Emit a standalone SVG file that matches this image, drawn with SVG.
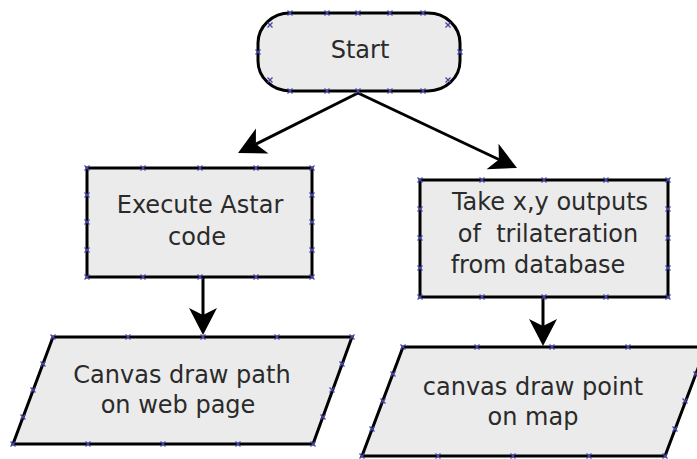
<svg xmlns="http://www.w3.org/2000/svg" xmlns:xlink="http://www.w3.org/1999/xlink" width="697" height="459" viewBox="0 0 697 459">
  <style>
    .shape { fill: #ebebeb; stroke: #000; stroke-width: 3; stroke-linejoin: miter; }
    .label { font-family: "DejaVu Sans", "Liberation Sans", sans-serif; font-size: 24px; fill: #2a2a2a; text-anchor: middle; }
    .conn { stroke: #000; stroke-width: 3; fill: none; }
    .cp { stroke: #4646a8; stroke-width: 1.3; fill: none; }
  </style>
  <defs>
    <!-- filled concave arrowhead; the reference point is the notch at the back -->
    <marker id="head" viewBox="-8 -15 30 30" markerWidth="30" markerHeight="30" refX="0" refY="0" orient="auto" markerUnits="userSpaceOnUse">
      <path d="M20,0 L-7,-14 L0,0 L-7,14 Z" fill="#000"/>
    </marker>
    <!-- connection point cross -->
    <path id="x" class="cp" d="M-2.5,-2.5 L2.5,2.5 M-2.5,2.5 L2.5,-2.5"/>
  </defs>

  <rect width="697" height="459" fill="#fff"/>

  <g id="connectors">
    <line class="conn" x1="358" y1="93" x2="255.9" y2="144.1" marker-end="url(#head)"/>
    <line class="conn" x1="358" y1="93" x2="498.9" y2="159.5" marker-end="url(#head)"/>
    <line class="conn" x1="203" y1="277" x2="203" y2="315" marker-end="url(#head)"/>
    <line class="conn" x1="543" y1="297" x2="543" y2="326" marker-end="url(#head)"/>
  </g>

  <g id="start">
    <rect class="shape" x="258" y="13" width="202" height="78" rx="32" ry="30"/>
    <text class="label" x="360" y="58">Start</text>
    <g>
      <use xlink:href="#x" x="290" y="13"/><use xlink:href="#x" x="327" y="13"/><use xlink:href="#x" x="358" y="13"/><use xlink:href="#x" x="390" y="13"/><use xlink:href="#x" x="423" y="13"/>
      <use xlink:href="#x" x="290" y="91"/><use xlink:href="#x" x="327" y="91"/><use xlink:href="#x" x="358" y="91"/><use xlink:href="#x" x="390" y="91"/><use xlink:href="#x" x="423" y="91"/>
      <use xlink:href="#x" x="270" y="25"/><use xlink:href="#x" x="448" y="25"/><use xlink:href="#x" x="258" y="52"/><use xlink:href="#x" x="460" y="52"/><use xlink:href="#x" x="270" y="80"/><use xlink:href="#x" x="448" y="80"/>
    </g>
  </g>

  <g id="execute">
    <rect class="shape" x="87" y="168" width="225" height="109"/>
    <text class="label" x="200" y="213">Execute Astar</text>
    <text class="label" x="197" y="245">code</text>
    <g>
      <use xlink:href="#x" x="87" y="168"/><use xlink:href="#x" x="143" y="168"/><use xlink:href="#x" x="200" y="168"/><use xlink:href="#x" x="256" y="168"/><use xlink:href="#x" x="312" y="168"/>
      <use xlink:href="#x" x="87" y="277"/><use xlink:href="#x" x="143" y="277"/><use xlink:href="#x" x="200" y="277"/><use xlink:href="#x" x="256" y="277"/><use xlink:href="#x" x="312" y="277"/>
      <use xlink:href="#x" x="87" y="195"/><use xlink:href="#x" x="87" y="222"/><use xlink:href="#x" x="87" y="250"/>
      <use xlink:href="#x" x="312" y="195"/><use xlink:href="#x" x="312" y="222"/><use xlink:href="#x" x="312" y="250"/>
    </g>
  </g>

  <g id="take">
    <rect class="shape" x="420" y="180" width="248" height="117"/>
    <text class="label" x="550" y="210">Take x,y outputs</text>
    <text class="label" x="548" y="242" xml:space="preserve">of  trilateration</text>
    <text class="label" x="538" y="273">from database</text>
    <g>
      <use xlink:href="#x" x="420" y="180"/><use xlink:href="#x" x="482" y="180"/><use xlink:href="#x" x="544" y="180"/><use xlink:href="#x" x="606" y="180"/><use xlink:href="#x" x="668" y="180"/>
      <use xlink:href="#x" x="420" y="297"/><use xlink:href="#x" x="482" y="297"/><use xlink:href="#x" x="544" y="297"/><use xlink:href="#x" x="606" y="297"/><use xlink:href="#x" x="668" y="297"/>
      <use xlink:href="#x" x="420" y="209"/><use xlink:href="#x" x="420" y="238"/><use xlink:href="#x" x="420" y="268"/>
      <use xlink:href="#x" x="668" y="209"/><use xlink:href="#x" x="668" y="238"/><use xlink:href="#x" x="668" y="268"/>
    </g>
  </g>

  <g id="draw-path">
    <polygon class="shape" points="53,337 352,337 313,444 13,444"/>
    <text class="label" x="182" y="383">Canvas draw path</text>
    <text class="label" x="178" y="413">on web page</text>
    <g>
      <use xlink:href="#x" x="53" y="337"/><use xlink:href="#x" x="128" y="337"/><use xlink:href="#x" x="203" y="337"/><use xlink:href="#x" x="277" y="337"/><use xlink:href="#x" x="352" y="337"/>
      <use xlink:href="#x" x="13" y="444"/><use xlink:href="#x" x="88" y="444"/><use xlink:href="#x" x="163" y="444"/><use xlink:href="#x" x="238" y="444"/><use xlink:href="#x" x="313" y="444"/>
      <use xlink:href="#x" x="43" y="364"/><use xlink:href="#x" x="33" y="390"/><use xlink:href="#x" x="23" y="417"/>
      <use xlink:href="#x" x="342" y="364"/><use xlink:href="#x" x="332" y="390"/><use xlink:href="#x" x="323" y="417"/>
    </g>
  </g>

  <g id="draw-point">
    <polygon class="shape" points="403,347 706,347 665,456 362,456"/>
    <text class="label" x="533" y="395">canvas draw point</text>
    <text class="label" x="533" y="425">on map</text>
    <g>
      <use xlink:href="#x" x="403" y="347"/><use xlink:href="#x" x="477" y="347"/><use xlink:href="#x" x="552" y="347"/><use xlink:href="#x" x="628" y="347"/>
      <use xlink:href="#x" x="362" y="456"/><use xlink:href="#x" x="438" y="456"/><use xlink:href="#x" x="513" y="456"/><use xlink:href="#x" x="589" y="456"/><use xlink:href="#x" x="665" y="456"/>
      <use xlink:href="#x" x="393" y="374"/><use xlink:href="#x" x="383" y="401"/><use xlink:href="#x" x="372" y="429"/>
      <use xlink:href="#x" x="696" y="374"/><use xlink:href="#x" x="685" y="401"/><use xlink:href="#x" x="675" y="429"/>
    </g>
  </g>
</svg>
